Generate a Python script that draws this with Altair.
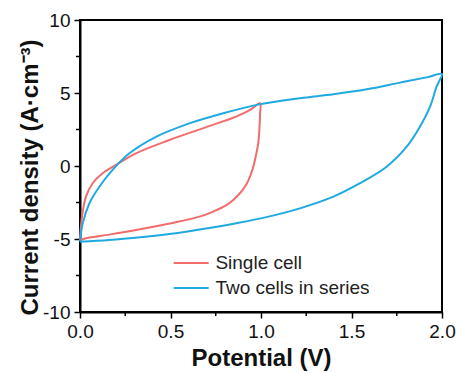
import altair as alt
import pandas as pd

# Cyclic voltammograms: forward (charge) sweep followed by the reverse sweep
single_v = [0.0, 0.011, 0.033, 0.07, 0.125, 0.199, 0.309, 0.494, 0.678, 0.862, 0.94, 0.995,
            0.995, 0.985, 0.97, 0.954, 0.93, 0.899, 0.85, 0.807, 0.74, 0.678, 0.53, 0.346, 0.162, 0.052, 0.0]
single_j = [-5.05, -3.47, -2.1, -1.18, -0.5, 0.07, 0.87, 1.78, 2.58, 3.38, 3.84, 4.3,
            3.6, 1.6, 0.6, -0.2, -1.0, -1.64, -2.3, -2.7, -3.1, -3.4, -3.85, -4.3, -4.7, -4.9, -5.07]

series_v = [0.0, 0.015, 0.052, 0.107, 0.18, 0.273, 0.42, 0.604, 0.788, 0.99, 1.215, 1.4, 1.584, 1.768, 1.915, 2.0,
            1.986, 1.97, 1.934, 1.878, 1.805, 1.694, 1.547, 1.4, 1.215, 1.03, 0.85, 0.714, 0.53, 0.346, 0.162, 0.0]
series_j = [-5.18, -3.93, -2.55, -1.42, -0.27, 0.87, 2.0, 2.92, 3.6, 4.22, 4.64, 4.91, 5.25, 5.71, 6.07, 6.3,
            5.85, 5.43, 4.06, 2.69, 1.32, -0.05, -1.18, -2.1, -2.9, -3.5, -3.95, -4.25, -4.6, -4.86, -5.07, -5.18]

labels = ["Single cell", "Two cells in series"]
colors = ["#F36C6C", "#1EA9E1"]

x_major = [0.0, 0.5, 1.0, 1.5, 2.0]
x_minor = [0.25, 0.75, 1.25, 1.75]
y_major = [-10, -5, 0, 5, 10]
y_minor = [-7.5, -2.5, 2.5, 7.5]

rows = []
for i, (v, j) in enumerate(zip(single_v, single_j)):
    rows.append({"series": labels[0], "idx": i, "v": v, "j": j})
for i, (v, j) in enumerate(zip(series_v, series_j)):
    rows.append({"series": labels[1], "idx": i, "v": v, "j": j})
df = pd.DataFrame(rows)

FONT = "Liberation Sans"
W, H = 362, 292

xscale = alt.Scale(domain=[0, 2], nice=False, zero=False)
yscale = alt.Scale(domain=[-10, 10], nice=False, zero=False)

# legend key: a long horizontal stroke drawn from a small symbol size so rows stay compact
legend = alt.Legend(title=None, orient="none", legendX=101.7, legendY=233.5,
                    symbolType="M-3,0H3", symbolSize=136, symbolStrokeWidth=2,
                    symbolFillColor="transparent",
                    labelFontSize=19, labelFont=FONT, labelColor="#222222",
                    labelOffset=14.7, rowPadding=5, padding=0)

curves = alt.Chart(df).mark_line(strokeWidth=2, interpolate="catmull-rom").encode(
    x=alt.X("v:Q", scale=xscale,
            axis=alt.Axis(values=x_major, format=".1f", title="Potential (V)",
                          titleX=W / 2, titleY=53, titleBaseline="alphabetic")),
    y=alt.Y("j:Q", scale=yscale,
            axis=alt.Axis(values=y_major, labelExpr="'' + datum.value",
                          title="Current density (A·cm⁻³)",
                          titleX=-43, titleY=157, titleBaseline="alphabetic")),
    color=alt.Color("series:N", scale=alt.Scale(domain=labels, range=colors), legend=legend),
    order="idx:Q",
)

minor_x = alt.Chart(pd.DataFrame({"v": x_minor})).mark_rule(color="black", strokeWidth=1.5).encode(
    x=alt.X("v:Q", scale=xscale),
    y=alt.value(H), y2=alt.value(H + 4),
)
minor_y = alt.Chart(pd.DataFrame({"j": y_minor})).mark_rule(color="black", strokeWidth=1.5).encode(
    y=alt.Y("j:Q", scale=yscale),
    x=alt.value(-4), x2=alt.value(0),
)

chart = alt.layer(curves, minor_x, minor_y).properties(
    width=W, height=H,
    autosize=alt.AutoSizeParams(type="none"),
    padding={"left": 80, "top": 20, "right": 17, "bottom": 61},
    background="white",
).configure_view(
    stroke="black", strokeWidth=2
).configure_axis(
    grid=False,
    domainColor="black", domainWidth=2,
    tickColor="black", tickWidth=1.5, tickSize=6,
    labelFont=FONT, labelFontSize=19, labelColor="#111111", labelPadding=4,
    labelFlush=False, labelOverlap=False,
    titleFont=FONT, titleFontSize=24, titleFontWeight="bold", titleColor="#111111",
)

chart.save("out.html", embed_options={"renderer": "svg", "actions": False})
